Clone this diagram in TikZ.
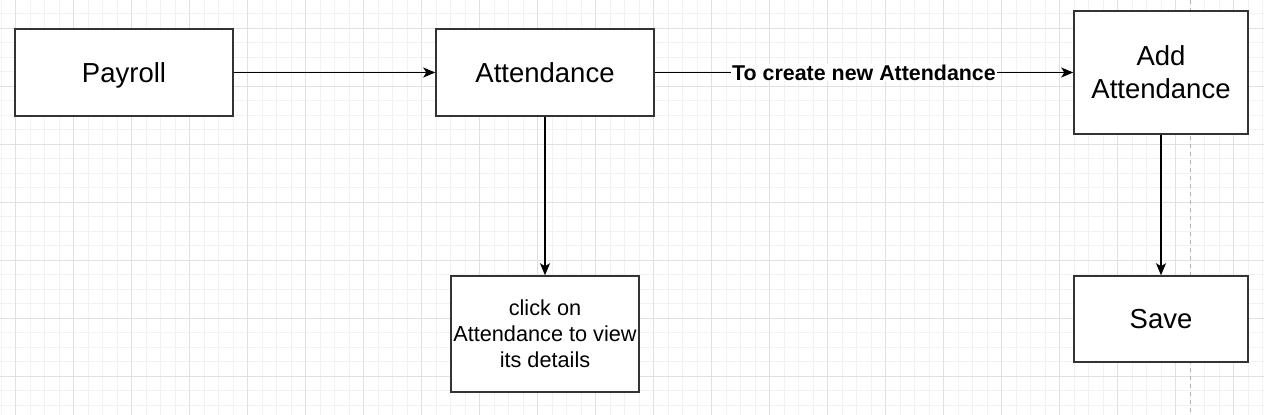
\documentclass[tikz,border=0pt]{standalone}
\usepackage{fontspec}
\setmainfont{Liberation Sans}
\usetikzlibrary{arrows.meta}
\definecolor{gridminor}{HTML}{F2F2F2}
\definecolor{gridmajor}{HTML}{E0E0E0}
\definecolor{boxline}{HTML}{333333}
\begin{document}
\begin{tikzpicture}[x=1pt,y=-1pt,
  box/.style={draw=boxline,line width=1.5pt,fill=white,inner sep=0pt,align=center,font=\fontsize{27.5}{33}\selectfont},
  smallbox/.style={box,font=\fontsize{21.7}{26}\selectfont},
  conn/.style={line width=1.4pt,-{Stealth[length=12pt,width=10pt,inset=3pt]}},
  lbl/.style={fill=white,inner sep=1pt,font=\bfseries\fontsize{21.4}{25}\selectfont}]
\useasboundingbox (0,0) rectangle (1264,415);
\fill[white] (0,0) rectangle (1264,415);
% grid
\foreach \i in {0,...,87} {
  \draw[gridminor,line width=0.8pt] ({1.2+14.5*\i},0) -- ({1.2+14.5*\i},415);
}
\foreach \i in {0,...,28} {
  \draw[gridminor,line width=0.8pt] (0,{13.8+14.5*\i}) -- (1264,{13.8+14.5*\i});
}
\foreach \i in {0,...,21} {
  \draw[gridmajor,line width=0.9pt] ({15.7+58*\i},0) -- ({15.7+58*\i},415);
}
\foreach \i in {0,...,6} {
  \draw[gridmajor,line width=0.9pt] (0,{28.3+58*\i}) -- (1264,{28.3+58*\i});
}
\draw[gray!60,line width=0.7pt,dash pattern=on 4pt off 4pt] (1190,0) -- (1190,415);
% nodes
\node[box,minimum width=218pt,minimum height=87pt,text height=20pt,text depth=0pt] (payroll) at (124,72.5) {Payroll};
\node[box,minimum width=218pt,minimum height=87pt] (att) at (545,72.5) {Attendance};
\node[box,minimum width=174pt,minimum height=123pt] (add) at (1161,72.5) {Add\\Attendance};
\node[box,minimum width=174pt,minimum height=86pt] (save) at (1161,319) {Save};
\node[smallbox,minimum width=188pt,minimum height=116pt] (click) at (545,334) {click on\\Attendance to view\\its details};
% connectors
\draw[conn] (payroll.east) -- (att.west);
\draw[conn] (att.east) -- node[lbl,pos=0.5] {To create new Attendance} (add.west);
\draw[conn] (att.south) -- (click.north);
\draw[conn] (add.south) -- (save.north);
\end{tikzpicture}
\end{document}
